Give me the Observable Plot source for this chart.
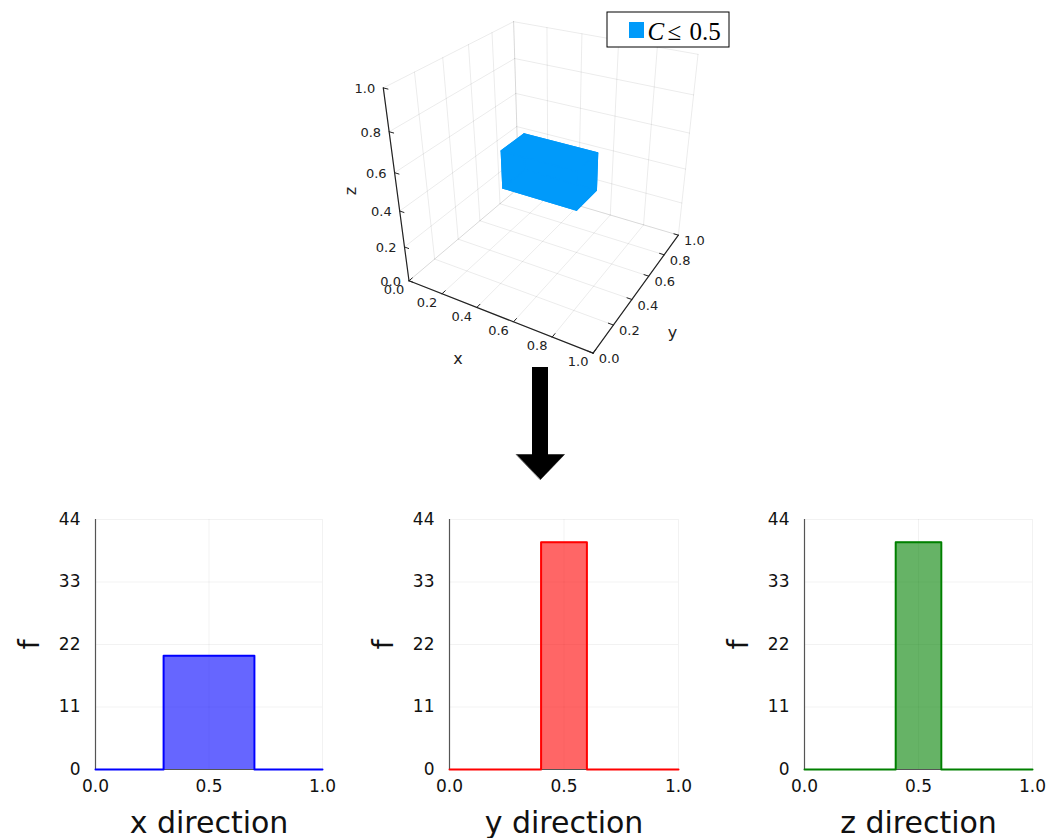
<!DOCTYPE html>
<html>
<head>
<meta charset="utf-8">
<script src="https://cdn.jsdelivr.net/npm/d3@7"></script>
<script src="https://cdn.jsdelivr.net/npm/@observablehq/plot@0.6"></script>
<style>
  html, body { margin: 0; padding: 0; background: #fff; }
  #wrap { position: relative; width: 1047px; height: 838px; overflow: hidden; background: #fff; }
  .panel { position: absolute; }
  .panel svg { max-width: none !important; }
</style>
</head>
<body>
<div id="wrap">
  <div id="top" class="panel" style="left:0;top:0;width:1047px;"></div>
  <div id="h1" class="panel" style="left:0;top:500px;width:340px;"></div>
  <div id="h2" class="panel" style="left:354px;top:500px;width:340px;"></div>
  <div id="h3" class="panel" style="left:709px;top:500px;width:340px;"></div>
</div>
<script>
// ---------------- data ----------------
const seriesLabel = "C ≤ 0.5";
// region of points with C <= 0.5 (bounds of the cell cloud)
const boxX = [0.3, 0.7];
const boxY = [0.4, 0.6];
const boxZ = [0.4, 0.6];
const ticks3d = [0, 0.2, 0.4, 0.6, 0.8, 1.0];
const axisNames3d = ["x", "y", "z"];

// histograms (bin edges and heights)
const xEdges = [0, 0.3, 0.7, 1.0];
const xCounts = [0, 20, 0];
const yEdges = [0, 0.4, 0.6, 1.0];
const yCounts = [0, 40, 0];
const zEdges = [0, 0.4, 0.6, 1.0];
const zCounts = [0, 40, 0];
const histXTicks = [0, 0.5, 1.0];
const histYTicks = [0, 11, 22, 33, 44];
const histLabels = ["x direction", "y direction", "z direction"];
const histColors = ["#0000ff", "#ff0000", "#008000"];
const yLabel = "f";

// ---------------- 3D camera (perspective, fitted from reference corners) ----------------
const calib3d = [
  [0, 0, 0, 408, 280],
  [1, 0, 0, 592, 353],
  [1, 1, 0, 678, 234],
  [0, 0, 1, 383, 87],
  [0, 1, 1, 513, 21],
  [1, 1, 1, 697, 53],
  [0.3, 0.4, 0.6, 502, 150],
  [0.3, 0.4, 0.4, 503, 187],
  [0.7, 0.4, 0.4, 576, 208],
  [0.7, 0.6, 0.4, 597, 191],
  [0.7, 0.6, 0.6, 597, 154],
  [0.3, 0.6, 0.6, 522, 135]
];
const U0 = 540, V0 = 200, SC = 100;
function fitCamera(pts) {
  const rows = [], rhs = [];
  for (const [X, Y, Z, u0, v0] of pts) {
    const u = (u0 - U0) / SC, v = (v0 - V0) / SC;
    rows.push([X, Y, Z, 1, 0, 0, 0, 0, -u * X, -u * Y, -u * Z]); rhs.push(u);
    rows.push([0, 0, 0, 0, X, Y, Z, 1, -v * X, -v * Y, -v * Z]); rhs.push(v);
  }
  const n = 11;
  const M = Array.from({length: n}, () => new Array(n + 1).fill(0));
  rows.forEach((r, k) => {
    for (let i = 0; i < n; i++) {
      for (let j = 0; j < n; j++) M[i][j] += r[i] * r[j];
      M[i][n] += r[i] * rhs[k];
    }
  });
  for (let i = 0; i < n; i++) {
    let p = i;
    for (let r = i + 1; r < n; r++) if (Math.abs(M[r][i]) > Math.abs(M[p][i])) p = r;
    [M[i], M[p]] = [M[p], M[i]];
    for (let r = 0; r < n; r++) {
      if (r === i) continue;
      const f = M[r][i] / M[i][i];
      for (let c = i; c <= n; c++) M[r][c] -= f * M[i][c];
    }
  }
  return M.map((row, i) => row[n] / row[i]);
}
const P = fitCamera(calib3d);
function proj(X, Y, Z) {
  const w = P[8] * X + P[9] * Y + P[10] * Z + 1;
  const u = (P[0] * X + P[1] * Y + P[2] * Z + P[3]) / w;
  const v = (P[4] * X + P[5] * Y + P[6] * Z + P[7]) / w;
  return [u * SC + U0, v * SC + V0];
}

// gridlines
const grid = [];
let gid = 0;
function seg(arr, a, b, extra = {}) {
  const id = gid++;
  const pa = proj(...a), pb = proj(...b);
  arr.push({id, px: pa[0], py: pa[1], ...extra});
  arr.push({id, px: pb[0], py: pb[1], ...extra});
}
for (const t of ticks3d) {
  seg(grid, [t, 0, 0], [t, 1, 0]);   // floor
  seg(grid, [0, t, 0], [1, t, 0]);
  seg(grid, [0, t, 0], [0, t, 1]);   // wall x=0
  seg(grid, [0, 0, t], [0, 1, t]);
  seg(grid, [t, 1, 0], [t, 1, 1]);   // wall y=1
  seg(grid, [0, 1, t], [1, 1, t]);
}
// axes
const axes = [];
seg(axes, [0, 0, 0], [1, 0, 0]);
seg(axes, [1, 0, 0], [1, 1, 0]);
seg(axes, [0, 0, 0], [0, 0, 1]);
const tickSegs = [];
const tl = 0.025;
for (const t of ticks3d) {
  seg(tickSegs, [t, 0, 0], [t, tl, 0]);
  seg(tickSegs, [1, t, 0], [1 - tl, t, 0]);
  seg(tickSegs, [0, 0, t], [tl, 0, t]);
}
const fmt1 = d3.format(".1f");
const tickLabelsX = [], tickLabelsY = [], tickLabelsZ = [];
for (const t of ticks3d) {
  let p = proj(t, 0, 0);
  tickLabelsX.push({px: p[0] - 15, py: p[1] + 9, text: fmt1(t)});
  p = proj(1, t, 0);
  tickLabelsY.push({px: p[0] + 16, py: p[1] + 6, text: fmt1(t)});
  p = proj(0, 0, t);
  tickLabelsZ.push({px: p[0] - 8, py: p[1] + 1, text: fmt1(t)});
}
const pxl = proj(0.5, 0, 0), pyl = proj(1, 0.5, 0), pzl = proj(0, 0, 0.5);
const axisLabels = [
  {px: pxl[0] - 37, py: pxl[1] + 44, text: axisNames3d[0]},
  {px: pyl[0] + 32, py: pyl[1] + 45, text: axisNames3d[1]}
];
const axisLabelsRot = [
  {px: pzl[0] - 46, py: pzl[1] - 1, text: axisNames3d[2]}
];

// box faces
const faces = [];
const [x0, x1] = boxX, [y0, y1] = boxY, [z0, z1] = boxZ;
const faceDefs = [
  [[x0,y0,z0],[x1,y0,z0],[x1,y0,z1],[x0,y0,z1]],
  [[x0,y1,z0],[x1,y1,z0],[x1,y1,z1],[x0,y1,z1]],
  [[x0,y0,z0],[x0,y1,z0],[x0,y1,z1],[x0,y0,z1]],
  [[x1,y0,z0],[x1,y1,z0],[x1,y1,z1],[x1,y0,z1]],
  [[x0,y0,z0],[x1,y0,z0],[x1,y1,z0],[x0,y1,z0]],
  [[x0,y0,z1],[x1,y0,z1],[x1,y1,z1],[x0,y1,z1]]
];
faceDefs.forEach((f, i) => f.forEach(c => { const p = proj(...c); faces.push({id: i, px: p[0], py: p[1]}); }));

// legend / arrow layout (pixels)
const legendBox = {x1: 607, x2: 729, y1: 12, y2: 47};
const legendSwatch = {x1: 629, x2: 644, y1: 22, y2: 38};
const arrowShaft = {x1: 532, x2: 548, y1: 367, y2: 455};
const arrowHead = [{px: 516, py: 454}, {px: 564, py: 454}, {px: 540, py: 479}];
const cloudColor = "#009afa";
const legendParts = seriesLabel.split(" ");

const topPlot = Plot.plot({
  width: 1047, height: 500,
  margin: 0,
  x: {type: "linear", domain: [0, 1047], range: [0, 1047], axis: null},
  y: {type: "linear", domain: [0, 500], range: [0, 500], axis: null},
  style: {fontFamily: "DejaVu Sans", fontSize: "13px", background: "white", overflow: "visible"},
  marks: [
    Plot.line(grid, {x: "px", y: "py", z: "id", stroke: "#000", strokeOpacity: 0.08, strokeWidth: 1}),
    Plot.line(faces, {x: "px", y: "py", z: "id", curve: "linear-closed", fill: cloudColor, stroke: cloudColor, strokeWidth: 1.5}),
    Plot.line(axes, {x: "px", y: "py", z: "id", stroke: "#222", strokeWidth: 1.2}),
    Plot.line(tickSegs, {x: "px", y: "py", z: "id", stroke: "#222", strokeWidth: 1}),
    Plot.text(tickLabelsX, {x: "px", y: "py", text: "text", textAnchor: "middle", fill: "#222"}),
    Plot.text(tickLabelsY, {x: "px", y: "py", text: "text", textAnchor: "middle", fill: "#222"}),
    Plot.text(tickLabelsZ, {x: "px", y: "py", text: "text", textAnchor: "end", fill: "#222"}),
    Plot.text(axisLabels, {x: "px", y: "py", text: "text", fontSize: 16, fill: "#222"}),
    Plot.text(axisLabelsRot, {x: "px", y: "py", text: "text", fontSize: 16, rotate: -90, fill: "#222"}),
    Plot.rect([legendBox], {x1: "x1", x2: "x2", y1: "y1", y2: "y2", fill: "white", stroke: "#000", strokeWidth: 1}),
    Plot.rect([legendSwatch], {x1: "x1", x2: "x2", y1: "y1", y2: "y2", fill: cloudColor}),
    Plot.text([legendParts[0]], {x: 647, y: 31, text: d => d, textAnchor: "start", fontFamily: "Liberation Serif", fontStyle: "italic", fontSize: 25}),
    Plot.text([legendParts[1]], {x: 667, y: 31, text: d => d, textAnchor: "start", fontFamily: "Liberation Serif", fontSize: 25}),
    Plot.text([legendParts[2]], {x: 689, y: 31, text: d => d, textAnchor: "start", fontFamily: "Liberation Serif", fontSize: 25}),
    Plot.rect([arrowShaft], {x1: "x1", x2: "x2", y1: "y1", y2: "y2", fill: "#000"}),
    Plot.line(arrowHead, {x: "px", y: "py", curve: "linear-closed", fill: "#000", stroke: "#000", strokeWidth: 0.5})
  ]
});
document.getElementById("top").appendChild(topPlot);

// ---------------- histograms ----------------
function hist(elId, edges, counts, color, label, innerW) {
  const bins = counts.map((c, i) => ({x1: edges[i], x2: edges[i + 1], y: c}));
  const step = edges.map((e, i) => ({x: e, y: counts[Math.min(i, counts.length - 1)]}));
  const chart = Plot.plot({
    width: 95 + innerW + 15, height: 338,
    marginLeft: 95, marginRight: 15, marginTop: 19, marginBottom: 69,
    style: {fontFamily: "DejaVu Sans", fontSize: "17px", background: "white", overflow: "visible", color: "#111"},
    x: {domain: [0, 1]},
    y: {domain: [0, 44]},
    marks: [
      Plot.gridX(histXTicks, {stroke: "#000", strokeOpacity: 0.05, strokeWidth: 1}),
      Plot.gridY(histYTicks, {stroke: "#000", strokeOpacity: 0.05, strokeWidth: 1}),
      Plot.axisX(histXTicks, {tickSize: 0, tickPadding: 10, label: null, tickFormat: d3.format(".1f")}),
      Plot.axisY(histYTicks, {tickSize: 0, tickPadding: 15, label: null}),
      Plot.ruleX([0], {stroke: "#555", strokeWidth: 1.2}),
      Plot.ruleY([0], {stroke: "#555", strokeWidth: 1.2}),
      Plot.rectY(bins.filter(b => b.y > 0), {x1: "x1", x2: "x2", y: "y", fill: color, fillOpacity: 0.6}),
      Plot.line(step, {x: "x", y: "y", curve: "step-after", stroke: color, strokeWidth: 2}),
      Plot.text([label], {frameAnchor: "bottom", dy: 54, text: d => d, fontSize: 30, textAnchor: "middle", lineAnchor: "middle"}),
      Plot.text([yLabel], {frameAnchor: "left", dx: -66, rotate: -90, text: d => d, fontSize: 29, textAnchor: "middle", lineAnchor: "middle"})
    ]
  });
  document.getElementById(elId).appendChild(chart);
}
hist("h1", xEdges, xCounts, histColors[0], histLabels[0], 227);
hist("h2", yEdges, yCounts, histColors[1], histLabels[1], 229);
hist("h3", zEdges, zCounts, histColors[2], histLabels[2], 228);
</script>
</body>
</html>
